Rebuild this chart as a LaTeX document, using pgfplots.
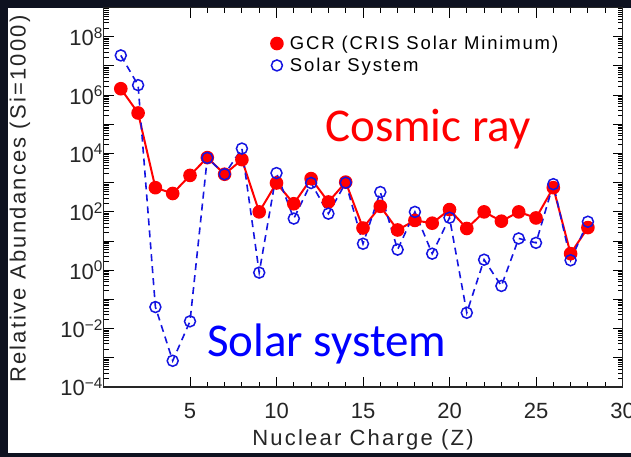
\documentclass[border=0pt]{standalone}
\usepackage{fontspec}
\setmainfont{Liberation Sans}
\newfontfamily\calib{Carlito}
\newfontfamily\idl[LetterSpace=10]{Liberation Sans}
\usepackage{pgfplots}
\pgfplotsset{compat=1.18}
\definecolor{darkbg}{RGB}{14,18,32}
\definecolor{idlblue}{RGB}{20,20,225}
\def\minorlist{2e-4}
\foreach \e in {-4,...,8}{\foreach \m in {2,...,9}{\xdef\minorlist{\minorlist,\m e\e}}}
\begin{document}
\begin{tikzpicture}[x=1pt,y=1pt]
\path[use as bounding box] (0,0) rectangle (631,457);
\fill[darkbg] (0,0) rectangle (631,457);
\fill[white] (8,4) rectangle (631,449);
\begin{axis}[
  at={(103.5pt,70pt)}, anchor=south west,
  scale only axis, width=519pt, height=379.4pt,
  xmin=0, xmax=30, ymode=log, ymin=1e-4, ymax=1e9,
  xtick={5,10,15,20,25,30}, xticklabels={5,10,15,20,25,30},
  minor x tick num=4,
  ytick={1e-4,1e-3,1e-2,1e-1,1,1e1,1e2,1e3,1e4,1e5,1e6,1e7,1e8,1e9},
  yticklabels={10\textsuperscript{−4},,10\textsuperscript{−2},,10\textsuperscript{0},,10\textsuperscript{2},,10\textsuperscript{4},,10\textsuperscript{6},,10\textsuperscript{8},},
  minor ytick/.expanded={\minorlist},
  tick align=inside,
  major tick length=10pt, minor tick length=5pt,
  every tick/.style={black, line width=1pt},
  every minor tick/.style={black, line width=0.9pt},
  axis line style={line width=1.5pt, black!85},
  tick label style={font=\fontsize{22}{24}\selectfont, black!85},
  xticklabel style={yshift=-13pt},
  yticklabel style={xshift=3pt},
  xlabel={Nuclear Charge (Z)}, ylabel={Relative Abundances (Si=1000)},
  label style={font=\idl\fontsize{22}{24}\selectfont, black!85},
  xlabel style={at={(axis description cs:0.5,-0.14)}, anchor=center},
  ylabel style={at={(axis description cs:-0.161,0.4955)}, anchor=center},
  legend style={at={(axis description cs:0.3068,0.936)}, anchor=north west, draw=none, fill=none,
    font=\idl\fontsize{18.5}{20}\selectfont, row sep=3pt},
  legend cell align=left,
  legend image code/.code={\path (0pt,0pt) (20pt,0pt); \draw[#1,only marks] plot coordinates {(10pt,0pt)};},
]
\addplot[red, line width=2pt, mark=*, mark size=5.8pt, mark options={solid, fill=red}] table {
x y
1 1.66e6
2 2.45e5
3 676
4 427
5 1778
6 7244
7 1950
8 6166
9 100
10 977
11 190
12 1380
13 219
14 1047
15 28
16 155
17 24
18 51
19 41
20 120
21 27
22 100
23 48
24 100
25 62
26 676
27 3.7
28 29
};
\addplot[idlblue, line width=1.6pt, dash pattern=on 7pt off 5pt, mark=o, mark size=5.5pt, mark options={solid, line width=1.5pt}] table {
x y
1 2.3e7
2 2.2e6
3 0.055
4 7.9e-4
5 0.0178
6 7080
7 1950
8 14800
9 0.83
10 2140
11 59
12 977
13 87
14 1000
15 8.1
16 479
17 5.1
18 100
19 3.7
20 63
21 0.035
22 2.3
23 0.29
24 12.3
25 8.7
26 891
27 2.2
28 46
};
\legend{GCR (CRIS Solar Minimum), Solar System}
\end{axis}
\node[anchor=base west, inner sep=0pt, text=red, font=\calib\fontsize{47}{50}\selectfont] at (325,315) {Cosmic ray};
\node[anchor=base west, inner sep=0pt, text=blue, font=\calib\fontsize{47}{50}\selectfont] at (207,100) {Solar system};
\end{tikzpicture}
\end{document}
